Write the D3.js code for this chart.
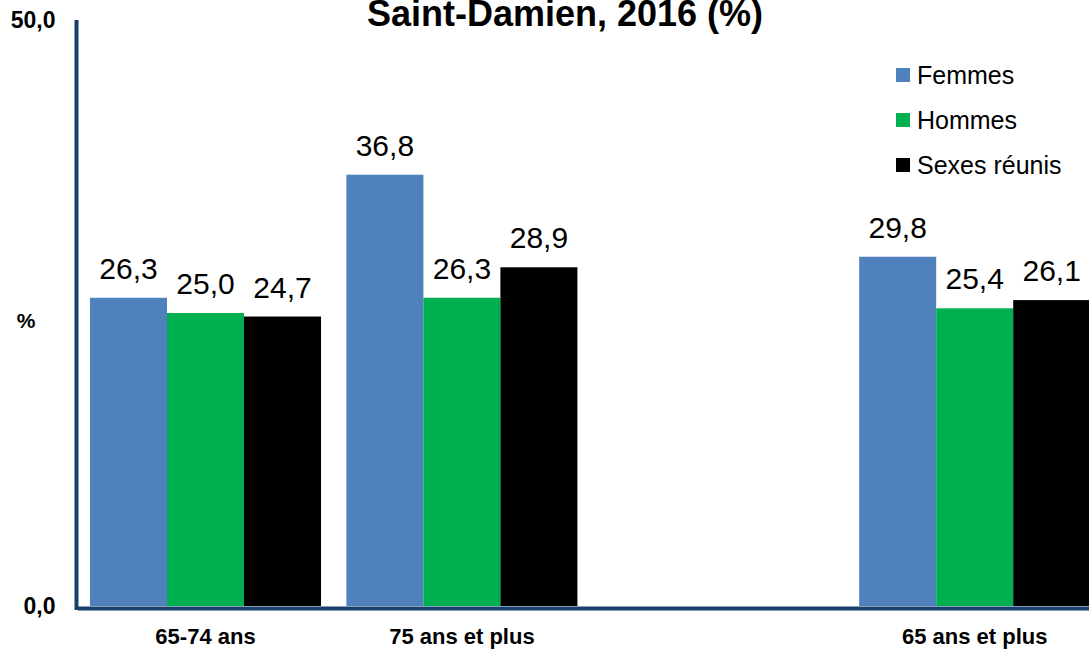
<!DOCTYPE html>
<html>
<head>
<meta charset="utf-8">
<script src="https://cdn.jsdelivr.net/npm/d3@7"></script>
<style>
  body { margin: 0; background: #fff; }
  svg { display: block; font-family: "Liberation Sans", Arial, sans-serif; }
</style>
</head>
<body>
<svg class="chart" width="1089" height="649"></svg>
<script>
// data
const categories = ["65-74 ans", "75 ans et plus", "", "65 ans et plus"];
const seriesNames = ["Femmes", "Hommes", "Sexes réunis"];
const femmes = [26.3, 36.8, null, 29.8];
const hommes = [25.0, 26.3, null, 25.4];
const sexes = [24.7, 28.9, null, 26.1];
const yTicks = [0, 50];
const colors = ["#4f81bd", "#00b050", "#000000"];

const width = 1089;
const height = 649;
const axisColor = "#17406d";

const svg = d3.select("svg.chart");

const fr = d3.formatLocale({ decimal: ",", thousands: " ", grouping: [3], currency: ["", " €"] });
const fmt = fr.format(".1f");

// scales
const x = d3.scaleBand()
  .domain(categories)
  .range([77.3, 1102.9])
  .paddingInner(0.099)
  .paddingOuter(0.0495);

const xs = d3.scaleBand()
  .domain(seriesNames)
  .range([0, x.bandwidth()])
  .padding(0);

const y = d3.scaleLinear()
  .domain([0, 50])
  .range([606, 20]);

const color = d3.scaleOrdinal().domain(seriesNames).range(colors);

const values = [femmes, hommes, sexes];
const rows = [];
categories.forEach((c, i) => {
  seriesNames.forEach((s, j) => {
    if (values[j][i] != null) rows.push({ cat: c, series: s, value: values[j][i] });
  });
});

// title (cut at the top like the original)
svg.append("text")
  .attr("x", 565)
  .attr("y", 26)
  .attr("text-anchor", "middle")
  .style("font-size", "36px")
  .style("font-weight", "bold")
  .text("Saint-Damien, 2016 (%)");

// bars
svg.append("g")
  .selectAll("rect")
  .data(rows)
  .enter()
  .append("rect")
  .attr("x", d => x(d.cat) + xs(d.series))
  .attr("y", d => y(d.value))
  .attr("width", xs.bandwidth())
  .attr("height", d => y(0) - y(d.value))
  .attr("fill", d => color(d.series));

// value labels
svg.append("g")
  .selectAll("text")
  .data(rows)
  .enter()
  .append("text")
  .attr("x", d => x(d.cat) + xs(d.series) + xs.bandwidth() / 2)
  .attr("y", d => y(d.value) - 19)
  .attr("text-anchor", "middle")
  .style("font-size", "30px")
  .text(d => fmt(d.value));

// y axis
const yAxis = svg.append("g")
  .attr("transform", "translate(76.5,0)")
  .call(d3.axisLeft(y).tickValues(yTicks).tickFormat(fmt).tickSize(0).tickPadding(21));
yAxis.select(".domain")
  .attr("stroke", axisColor)
  .attr("stroke-width", 4)
  .attr("d", "M0," + (y(0) + 4) + "V" + y(50));
yAxis.selectAll("text")
  .style("font-size", "23px")
  .style("font-weight", "bold")
  .style("font-family", "'Liberation Sans', Arial, sans-serif")
  .attr("fill", "#000");

// x axis
const xAxis = svg.append("g")
  .attr("transform", "translate(0,608)")
  .call(d3.axisBottom(x).tickSize(0).tickPadding(20));
xAxis.select(".domain")
  .attr("stroke", axisColor)
  .attr("stroke-width", 4);
xAxis.selectAll("text")
  .style("font-size", "22px")
  .style("font-weight", "bold")
  .style("font-family", "'Liberation Sans', Arial, sans-serif")
  .attr("fill", "#000");

// y axis title
svg.append("text")
  .attr("x", 26)
  .attr("y", 328)
  .attr("text-anchor", "middle")
  .style("font-size", "21px")
  .style("font-weight", "bold")
  .text("%");

// legend
const legend = svg.append("g")
  .selectAll("g")
  .data(seriesNames)
  .enter()
  .append("g")
  .attr("transform", (d, i) => "translate(896," + (75 + i * 45) + ")");

legend.append("rect")
  .attr("x", 0)
  .attr("y", -7)
  .attr("width", 14)
  .attr("height", 14)
  .attr("fill", d => color(d));

legend.append("text")
  .attr("x", 21)
  .attr("y", 9)
  .style("font-size", "25px")
  .text(d => d);
</script>
</body>
</html>
